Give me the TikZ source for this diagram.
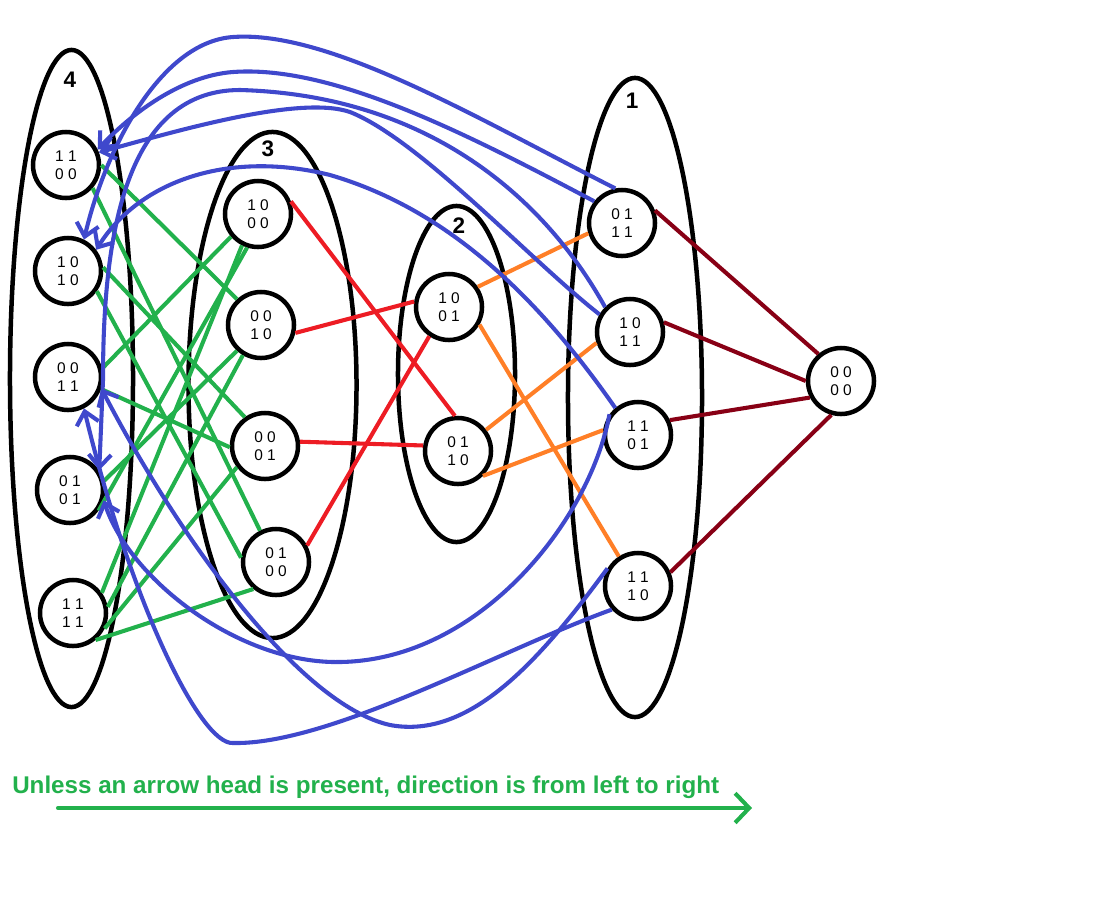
\documentclass[tikz,border=0pt]{standalone}
\usepackage{fontspec}
\setmainfont{Liberation Sans}
\usetikzlibrary{arrows.meta,shapes.geometric}

\definecolor{pgreen}{RGB}{34,177,76}
\definecolor{pblue}{RGB}{63,72,204}
\definecolor{pred}{RGB}{237,28,36}
\definecolor{porange}{RGB}{255,127,39}
\definecolor{pmaroon}{RGB}{136,0,21}

\begin{document}
\begin{tikzpicture}[
  x=0.025cm, y=-0.025cm,
  state/.style = {draw, circle, line width=3.2pt, fill=white, minimum size=1.65cm, inner sep=0pt, align=center, font=\fontsize{11}{12.5}\selectfont},
  group/.style = {draw, ellipse, line width=3.2pt, inner sep=0pt},
  glabel/.style = {inner sep=0pt, font=\fontsize{16}{16}\selectfont\bfseries},
  gline/.style = {pgreen, line width=2.9pt},
  rline/.style = {pred, line width=2.9pt},
  oline/.style = {porange, line width=2.9pt},
  mline/.style = {pmaroon, line width=2.9pt},
  back/.style = {pblue, line width=2.9pt, -{Straight Barb[length=9pt,width=16pt]}}
]
\useasboundingbox (0,0) rectangle (1106,916);

\node[group, minimum width=3.075cm, minimum height=16.425cm] (g4) at (71.5,378.5) {};
\node[group, minimum width=4.2cm, minimum height=12.65cm] (g3) at (272.5,385) {};
\node[group, minimum width=2.925cm, minimum height=8.4cm] (g2) at (456.5,374) {};
\node[group, minimum width=3.35cm, minimum height=15.975cm] (g1) at (635,397.5) {};
\node[glabel] (l4) at (70,80) {4};
\node[glabel] (l3) at (268,149) {3};
\node[glabel] (l2) at (459,226) {2};
\node[glabel] (l1) at (632,101) {1};

\node[state] (n4a) at (66,165) {1 1\\0 0};
\node[state] (n4b) at (68,271) {1 0\\1 0};
\node[state] (n4c) at (68,377) {0 0\\1 1};
\node[state] (n4d) at (70,490) {0 1\\0 1};
\node[state] (n4e) at (73,613) {1 1\\1 1};
\node[state] (n3a) at (258,214) {1 0\\0 0};
\node[state] (n3b) at (261,325) {0 0\\1 0};
\node[state] (n3c) at (265,446) {0 0\\0 1};
\node[state] (n3d) at (276,562) {0 1\\0 0};
\node[state] (n2a) at (449,307) {1 0\\0 1};
\node[state] (n2b) at (458,451) {0 1\\1 0};
\node[state] (n1a) at (622,223) {0 1\\1 1};
\node[state] (n1b) at (630,332) {1 0\\1 1};
\node[state] (n1c) at (638,435) {1 1\\0 1};
\node[state] (n1d) at (638,586) {1 1\\1 0};
\node[state] (fin) at (841,381) {0 0\\0 0};

\draw[gline] (n4a.0) -- (n3b.133);
\draw[gline] (n4a.-41) -- (n3d.117);
\draw[gline] (n4b.6) -- (n3c.125);
\draw[gline] (n4b.-35) -- (n3d.173);
\draw[gline] (n4c.-20) -- (n3c.182);
\draw[gline] (n4c.14) -- (n3a.220);
\draw[gline] (n4d.15) -- (n3b.227);
\draw[gline] (n4d.-36) -- (n3a.252);
\draw[gline] (n4e.35) -- (n3a.243);
\draw[gline] (n4e.10) -- (n3b.239);
\draw[gline] (n4e.-26) -- (n3c.217);
\draw[gline] (n4e.-50) -- (n3d.230);

\draw[rline] (n3a.21) -- (n2b.95);
\draw[rline] (n3b.-13) -- (n2a.171);
\draw[rline] (n3c.7) -- (n2b.171);
\draw[rline] (n3d.28) -- (n2a.236);

\draw[oline] (n2a.35) -- (n1a.197);
\draw[oline] (n2a.-30) -- (n1d.123);
\draw[oline] (n2b.37) -- (n1b.198);
\draw[oline] (n2b.-45) -- (n1c.172);

\draw[mline] (n1a.21) -- (fin.130);
\draw[mline] (n1b.16) -- (fin.180);
\draw[mline] (n1c.25) -- (fin.208);
\draw[mline] (n1d.23) -- (fin.254);

\draw[back] (n1a.101) .. controls (480,120) and (330,30) .. (233,37) .. controls (160,42) and (105,150) .. (n4b.63);
\draw[back] (n1a.142) .. controls (460,130) and (330,65) .. (233,72) .. controls (180,76) and (130,115) .. (n4a.26);
\draw[back] (n1b.135) .. controls (540,190) and (420,95) .. (240,90) .. controls (120,90) and (103,250) .. (103,380) -- (n4d.34);
\draw[back] (n1b.150) .. controls (530,260) and (420,140) .. (350,112) .. controls (300,95) and (180,130) .. (n4a.21);
\draw[back] (n1c.130) .. controls (540,300) and (450,210) .. (330,175) .. controls (230,150) and (140,180) .. (n4b.37);
\draw[back] (n1c.144) .. controls (590,520) and (480,660) .. (340,662) .. controls (240,664) and (130,580) .. (n4d.-17);
\draw[back] (n1d.150) .. controls (540,660) and (470,740) .. (390,725) .. controls (300,705) and (180,540) .. (n4c.-19);
\draw[back] (n1d.222) .. controls (500,650) and (330,745) .. (233,743) .. controls (200,745) and (130,600) .. (n4c.-63);

\node[anchor=base west, inner sep=0pt, text=pgreen, font=\fontsize{17.2}{20}\selectfont\bfseries] (note) at (12,793) {Unless an arrow head is present, direction is from left to right};
\coordinate (dirL) at (58,808);
\coordinate (dirR) at (752,808);
\draw[pgreen, line width=2.9pt, line cap=round, -{Straight Barb[length=10pt,width=21pt]}] (dirL) -- (dirR);
\end{tikzpicture}
\end{document}
